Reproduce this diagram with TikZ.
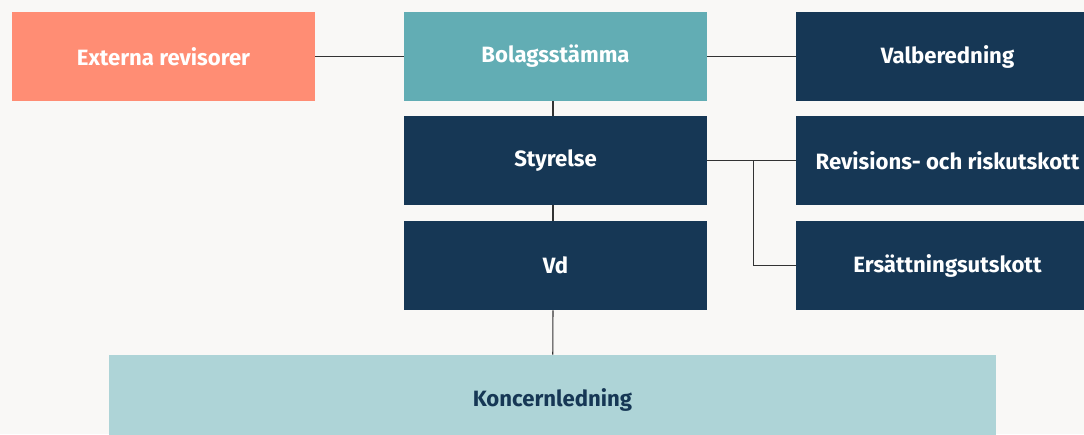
\documentclass[tikz,border=0pt]{standalone}
\usepackage{fontspec}
\setmainfont{Fira Sans}
\usetikzlibrary{calc}
\definecolor{BgClr}{HTML}{F9F8F6}
\definecolor{AuditClr}{HTML}{FF8D74}
\definecolor{MeetClr}{HTML}{62ADB4}
\definecolor{BoardClr}{HTML}{163755}
\definecolor{MgmtClr}{HTML}{AED4D7}
\definecolor{LineClr}{HTML}{333333}

\begin{document}
\begin{tikzpicture}[x=0.02cm,y=-0.02cm,
  box/.style={minimum width=303*0.02cm,minimum height=89*0.02cm,inner sep=0pt,
    text=white,font=\fontsize{12.6}{15}\selectfont\bfseries},
  link/.style={draw=LineClr,line width=0.6pt}]
\fill[BgClr] (0,0) rectangle (1084,434);
\clip (0,0) rectangle (1084,434);

% top row
\node[box,fill=AuditClr] (ext) at (163.5,56.5) {Externa revisorer};
\node[box,fill=MeetClr] (bol) at (555.5,56.5) {Bolagsstämma};
\node[box,fill=BoardClr] (val) at (947.5,56.5) {Valberedning};

% board and ceo
\node[box,fill=BoardClr] (sty) at (555.5,160.5) {Styrelse};
\node[box,fill=BoardClr] (rev) at (947.5,160.5) {Revisions- och riskutskott};
\node[box,fill=BoardClr] (vd) at (555.5,265.5) {Vd};
\node[box,fill=BoardClr] (ers) at (947.5,265.5) {Ersättningsutskott};

% group management
\node[box,fill=MgmtClr,text=BoardClr,minimum width=887*0.02cm] (kon) at (552.5,399.5) {Koncernledning};

\draw[link] (ext) -- (bol);
\draw[link] (bol) -- (val);
\draw[link] ([xshift=-2.5*0.02cm]bol.south) -- ([xshift=-2.5*0.02cm]sty.north);
\draw[link] ([xshift=-2.5*0.02cm]sty.south) -- ([xshift=-2.5*0.02cm]vd.north);
\draw[link] ([xshift=-2.5*0.02cm]vd.south) -- (kon);
\draw[link] (sty) -- (rev);
\coordinate (branch) at ($(sty.east)!0.52!(rev.west)$);
\draw[link] (branch) |- (ers.west);

\end{tikzpicture}
\end{document}
